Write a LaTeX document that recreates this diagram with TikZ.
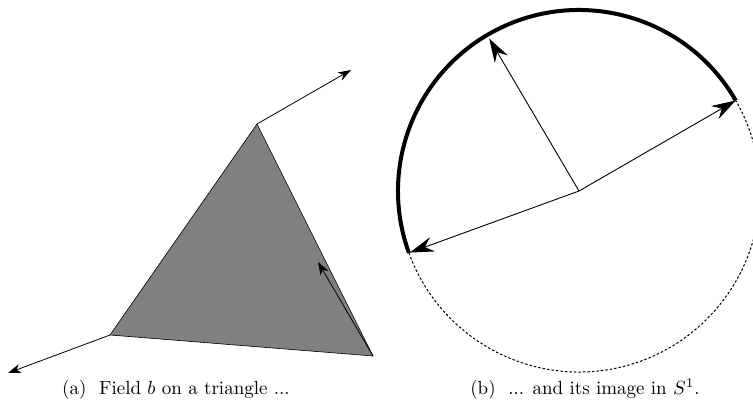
\documentclass[tikz,border=0pt]{standalone}
\usetikzlibrary{arrows.meta}
\begin{document}
\begin{tikzpicture}[x=1pt,y=-1pt,
  vec/.style={line width=0.8pt,-{Stealth[length=13pt,width=9pt,inset=4pt]}},
  bigvec/.style={line width=0.9pt,-{Stealth[length=24pt,width=15pt,inset=8pt]}},
  captext/.style={inner sep=0pt,anchor=base}]
\useasboundingbox (0,0) rectangle (753,409);
\clip (0,0) rectangle (753,409);
% (a) triangle
\coordinate (A) at (257,124);
\coordinate (B) at (110,335);
\coordinate (C) at (373,356);
\coordinate (A2) at (351,70);
\coordinate (B2) at (8,373);
\coordinate (C2) at (318,262);
\filldraw[fill=black!50,draw=black,line width=0.6pt] (A) -- (B) -- (C) -- cycle;
\draw[vec] (A) -- (A2);
\draw[vec] (B) -- (B2);
\draw[vec] (C) -- (C2);
\node[captext] (ca) at (176,394) {\scalebox{1.9}{(a)\ \ Field $b$ on a triangle ...}};
% (b) circle
\coordinate (O) at (579,191);
\draw[dash pattern=on 2.5pt off 2pt,line width=1pt] (O) ++(-200:181) arc[start angle=-200,end angle=-390,radius=181];
\draw[line width=4pt] (O) ++(-30:181) arc[start angle=-30,end angle=-200,radius=181];
\draw[bigvec] (O) -- ++(-30:181) coordinate (P1);
\draw[bigvec] (O) -- ++(-120.5:177) coordinate (P2);
\draw[bigvec] (O) -- ++(-200:180) coordinate (P3);
\node[captext] (cb) at (585,394) {\scalebox{1.9}{(b)\ \ ... and its image in $S^1$.}};
\end{tikzpicture}
\end{document}
